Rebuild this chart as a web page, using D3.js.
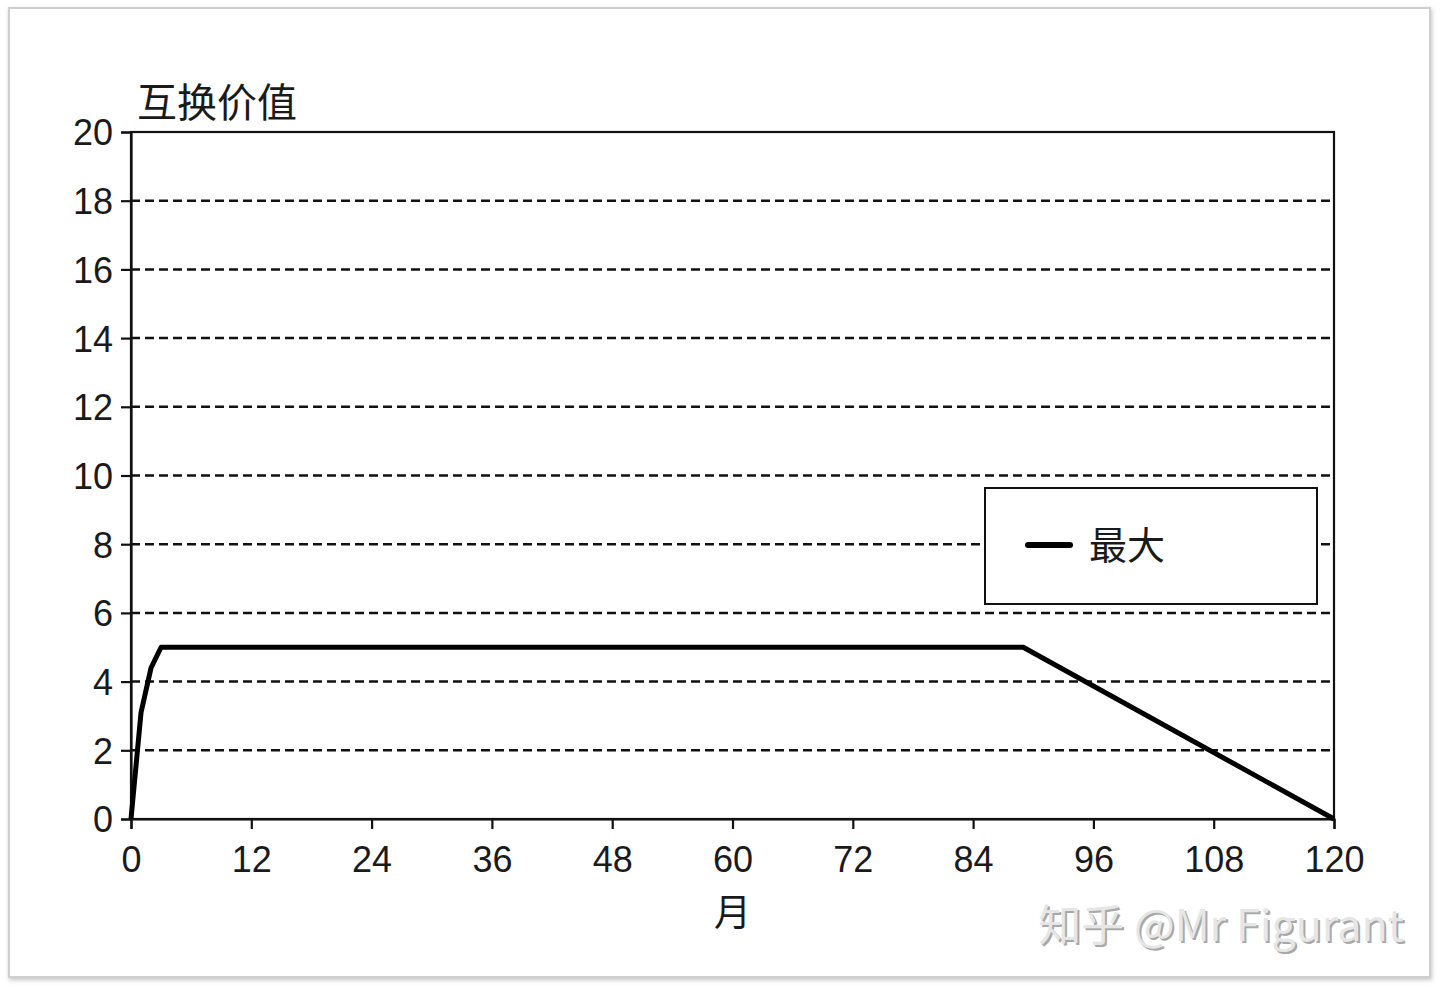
<!DOCTYPE html>
<html>
<head>
<meta charset="utf-8">
<script src="https://cdn.jsdelivr.net/npm/d3@7"></script>
<style>
  html, body { margin: 0; padding: 0; background: #fff; }
  text { font-family: "Liberation Sans", Arial, "Noto Sans CJK SC", sans-serif; fill: #1a1a1a; }
  .cjk { font-family: "Noto Sans CJK SC", sans-serif; }
</style>
</head>
<body>
<svg id="chart"></svg>
<script>
// data
var months = [0, 1, 2, 3, 89, 120];
var values = [0, 3.1, 4.4, 5, 5, 0];
var xTicks = [0, 12, 24, 36, 48, 60, 72, 84, 96, 108, 120];
var yTicks = [0, 2, 4, 6, 8, 10, 12, 14, 16, 18, 20];
var seriesName = "最大";
var yTitle = "互换价值";
var xTitle = "月";

var svgWidth = 1440;
var svgHeight = 990;

var margin = { top: 132, right: 106, bottom: 171, left: 131 };
var width = svgWidth - margin.left - margin.right;
var height = svgHeight - margin.top - margin.bottom;

var svg = d3.select("#chart")
  .attr("width", svgWidth)
  .attr("height", svgHeight);

// card frame with soft shadow
var defs = svg.append("defs");
var shadow = defs.append("filter").attr("id", "shadow")
  .attr("x", "-5%").attr("y", "-5%").attr("width", "110%").attr("height", "110%");
shadow.append("feDropShadow")
  .attr("dx", 1).attr("dy", 2).attr("stdDeviation", 2)
  .attr("flood-color", "#888").attr("flood-opacity", 0.5);

svg.append("rect")
  .attr("x", 9).attr("y", 8)
  .attr("width", 1421).attr("height", 969)
  .attr("fill", "#fff")
  .attr("stroke", "#cfcfcf")
  .attr("stroke-width", 2)
  .attr("filter", "url(#shadow)");

var chartGroup = svg.append("g")
  .attr("transform", `translate(${margin.left}, ${margin.top})`);

var x = d3.scaleLinear().domain([0, 120]).range([0, width]);
var y = d3.scaleLinear().domain([0, 20]).range([height, 0]);

// dashed grid
chartGroup.append("g")
  .selectAll("line")
  .data(yTicks.filter(d => d > 0 && d < 20))
  .enter()
  .append("line")
  .attr("x1", 0).attr("x2", width)
  .attr("y1", d => y(d)).attr("y2", d => y(d))
  .attr("stroke", "#111")
  .attr("stroke-width", 2.5)
  .attr("stroke-dasharray", "9,5");

// frame
chartGroup.append("rect")
  .attr("width", width).attr("height", height)
  .attr("fill", "none")
  .attr("stroke", "#111")
  .attr("stroke-width", 2.2);

var bottomAxis = d3.axisBottom(x).tickValues(xTicks).tickSize(10).tickPadding(17);
var leftAxis = d3.axisLeft(y).tickValues(yTicks).tickSize(10).tickPadding(8);

var xAxis = chartGroup.append("g")
  .attr("transform", `translate(0, ${height})`)
  .call(bottomAxis);

var yAxis = chartGroup.append("g")
  .call(leftAxis);

[xAxis, yAxis].forEach(function (g) {
  g.select(".domain").attr("stroke", "#111").attr("stroke-width", 2.2);
  g.selectAll(".tick line").attr("stroke", "#111").attr("stroke-width", 2.2);
  g.selectAll(".tick text")
    .attr("fill", "#1a1a1a")
    .style("font-size", "36px")
    .style("font-family", "'Liberation Sans', Arial, sans-serif");
});
yAxis.selectAll(".tick text").attr("dy", "0.36em");

// series line
var line = d3.line()
  .x((d, i) => x(months[i]))
  .y(d => y(d));

chartGroup.append("path")
  .datum(values)
  .attr("fill", "none")
  .attr("stroke", "#000")
  .attr("stroke-width", 5)
  .attr("stroke-linejoin", "round")
  .attr("d", line);

// legend
var legend = svg.append("g")
  .attr("transform", "translate(985, 488)");

legend.append("rect")
  .attr("width", 332).attr("height", 116)
  .attr("fill", "#fff")
  .attr("stroke", "#111")
  .attr("stroke-width", 2);

legend.append("line")
  .attr("x1", 43).attr("x2", 85)
  .attr("y1", 57).attr("y2", 57)
  .attr("stroke", "#000")
  .attr("stroke-width", 6)
  .attr("stroke-linecap", "round");

legend.append("text")
  .attr("class", "cjk")
  .attr("x", 104).attr("y", 71)
  .style("font-size", "38px")
  .text(seriesName);

// axis titles
svg.append("text")
  .attr("class", "cjk")
  .attr("x", 137).attr("y", 117)
  .style("font-size", "40px")
  .text(yTitle);

svg.append("text")
  .attr("class", "cjk")
  .attr("x", margin.left + x(60)).attr("y", 926)
  .attr("text-anchor", "middle")
  .style("font-size", "37px")
  .text(xTitle);

// watermark
var wm = svg.append("g");
wm.append("text")
  .attr("class", "cjk")
  .attr("x", 1406).attr("y", 943)
  .attr("text-anchor", "end")
  .style("font-size", "43px")
  .style("fill", "#a8a8a8")
  .text("知乎 @Mr Figurant");
wm.append("text")
  .attr("class", "cjk")
  .attr("x", 1404).attr("y", 941)
  .attr("text-anchor", "end")
  .style("font-size", "43px")
  .style("fill", "#e6e6e6")
  .text("知乎 @Mr Figurant");
</script>
</body>
</html>
